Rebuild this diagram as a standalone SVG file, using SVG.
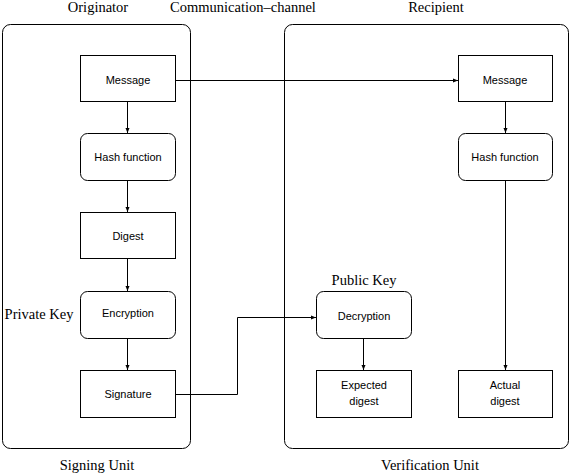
<svg xmlns="http://www.w3.org/2000/svg" width="570" height="475" viewBox="0 0 570 475">
<style>
.box{fill:#fff;stroke:#000;stroke-width:1}
.unit{fill:none;stroke:#000;stroke-width:1}
.lbl{font-family:"Liberation Sans",Arial,sans-serif;font-size:11px;text-anchor:middle}
.ttl{font-family:"Liberation Serif","Times New Roman",serif;font-size:14.5px;text-anchor:middle}
.conn{fill:none;stroke:#000;stroke-width:1}
</style>
<defs>
<marker id="ah" markerWidth="6" markerHeight="6" refX="5" refY="3" orient="auto" markerUnits="userSpaceOnUse">
<path d="M0,1 L5,3 L0,5 Z" fill="#000"/>
</marker>
</defs>
<rect x="0" y="0" width="570" height="475" fill="#fff"/>
<text class="ttl" x="98" y="12">Originator</text>
<text class="ttl" x="243" y="12">Communication–channel</text>
<text class="ttl" x="436" y="12">Recipient</text>
<text class="ttl" x="97" y="470">Signing Unit</text>
<text class="ttl" x="430" y="470">Verification Unit</text>
<g id="signing-unit"><rect class="unit" x="2.5" y="24.5" width="188" height="424" rx="8"/></g>
<g id="verification-unit"><rect class="unit" x="284.5" y="24.5" width="284" height="424" rx="8"/></g>
<g id="connectors">
<path class="conn" d="M127.5,101 V133" marker-end="url(#ah)"/>
<path class="conn" d="M127.5,181 V212" marker-end="url(#ah)"/>
<path class="conn" d="M127.5,258 V291" marker-end="url(#ah)"/>
<path class="conn" d="M127.5,338 V370" marker-end="url(#ah)"/>
<path class="conn" d="M175,80.5 H458" marker-end="url(#ah)"/>
<path class="conn" d="M505.5,102 V133" marker-end="url(#ah)"/>
<path class="conn" d="M505.5,181 V370" marker-end="url(#ah)"/>
<path class="conn" d="M175,394.5 H237.5 V317.5 H316" marker-end="url(#ah)"/>
<path class="conn" d="M363.5,339 V370" marker-end="url(#ah)"/>
</g>
<g id="msg-left"><rect class="box" x="80.5" y="55.5" width="95" height="46"/><text class="lbl" x="128" y="84">Message</text></g>
<g id="hash-left"><rect class="box" x="80.5" y="133.5" width="95" height="47" rx="7"/><text class="lbl" x="128" y="161">Hash function</text></g>
<g id="digest"><rect class="box" x="80.5" y="212.5" width="95" height="46"/><text class="lbl" x="128" y="240">Digest</text></g>
<g id="encryption"><rect class="box" x="80.5" y="291.5" width="95" height="47" rx="7"/><text class="lbl" x="128" y="317">Encryption</text></g>
<g id="signature"><rect class="box" x="80.5" y="370.5" width="95" height="47"/><text class="lbl" x="128" y="398">Signature</text></g>
<g id="private-key"><text class="ttl" x="39" y="319">Private Key</text></g>
<g id="msg-right"><rect class="box" x="458.5" y="55.5" width="94" height="46"/><text class="lbl" x="505" y="84">Message</text></g>
<g id="hash-right"><rect class="box" x="458.5" y="133.5" width="94" height="47" rx="7"/><text class="lbl" x="505" y="161">Hash function</text></g>
<g id="decryption"><rect class="box" x="316.5" y="291.5" width="95" height="47" rx="7"/><text class="lbl" x="364" y="320">Decryption</text></g>
<g id="public-key"><text class="ttl" x="364" y="285">Public Key</text></g>
<g id="expected-digest"><rect class="box" x="316.5" y="370.5" width="95" height="47"/><text class="lbl" x="364" y="389">Expected</text><text class="lbl" x="364" y="405">digest</text></g>
<g id="actual-digest"><rect class="box" x="458.5" y="370.5" width="94" height="47"/><text class="lbl" x="505" y="389">Actual</text><text class="lbl" x="505" y="405">digest</text></g>
</svg>
